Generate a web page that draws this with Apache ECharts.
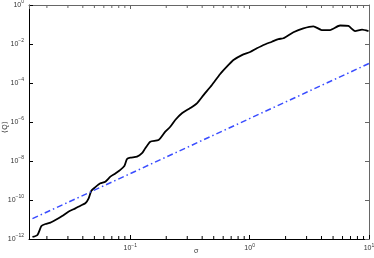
<!DOCTYPE html>
<html><head><meta charset="utf-8">
<script src="https://cdn.jsdelivr.net/npm/echarts@6/dist/echarts.min.js"></script>
<style>html,body{margin:0;padding:0;background:#fff}#c{width:374px;height:258px}</style>
</head><body><div id="c"></div>
<script>
// sigma values of the measured curve
const sigma = [0.01514,0.01667,0.01799,0.01945,0.02142,0.02357,0.02683,0.03048,0.03465,0.03817,0.04200,0.04477,0.04716,0.05093,0.05610,0.06176,0.06803,0.07489,0.08246,0.08910,0.09385,0.1,0.1138,0.1253,0.1335,0.1470,0.1725,0.1963,0.2161,0.2379,0.2707,0.3177,0.3614,0.4106,0.4829,0.5663,0.6648,0.7317,0.8604,1.009,1.149,1.305,1.535,1.742,1.919,2.326,2.818,3.420,4.018,4.717,5.716,6.714,7.638,8.738,9.91];
// <Q> values of the measured curve
const qValues = [1.27e-12,1.60e-12,4.6e-12,5.9e-12,6.9e-12,9.4e-12,1.5e-11,2.6e-11,3.7e-11,5.1e-11,6.8e-11,1.22e-10,3.0e-10,4.6e-10,7.2e-10,8.7e-10,1.57e-9,2.3e-9,3.5e-9,5.5e-9,1.27e-8,1.48e-8,1.66e-8,2.5e-8,4.5e-8,9.8e-8,1.19e-7,3.2e-7,5.7e-7,1.27e-6,2.8e-6,5.2e-6,9.1e-6,2.4e-5,7.9e-5,2.9e-4,8.4e-4,1.51e-3,2.7e-3,3.9e-3,6.0e-3,8.9e-3,1.31e-2,1.8e-2,1.96e-2,4.0e-2,6.4e-2,8.1e-2,5.2e-2,5.2e-2,8.9e-2,8.4e-2,4.6e-2,5.5e-2,4.6e-2];
// reference power-law line
const refSigma = [0.01514, 10];
const refQ = [1.1e-11, 1.0e-3];
// axis ranges and ticks
const xMin = 0.01416, xMax = 10;
const yMin = 1e-12, yMax = 1;
const xMinorTicks = [0.02,0.03,0.04,0.05,0.06,0.07,0.08,0.09,0.2,0.3,0.4,0.5,0.6,0.7,0.8,0.9,2,3,4,5,6,7,8,9];
const xLabel = 'σ';
const yLabel = '⟨Q⟩';

const FONT = 'Liberation Sans';
function supFmt(v){
  const l = Math.log10(v);
  const r = Math.round(l);
  if (Math.abs(l - r) > 1e-6) return '';
  const e = r < 0 ? '\u2212' + (-r) : '' + r;
  return '{b|10}{s|' + e + '}';
}
const rich = {
  b:{fontSize:7, fontFamily:FONT, color:'#333'},
  s:{fontSize:5, fontFamily:FONT, color:'#333', padding:[0,0,6,0]}
};

const chart = echarts.init(document.getElementById('c'), null, {renderer:'canvas'});
const grid = {left:29, right:5, top:5, bottom:19, containLabel:false, outerBoundsMode:'none'};
chart.setOption({
  animation:false,
  grid: grid,
  graphic:[
    {type:'text', left:194, top:248, style:{text:xLabel, fontSize:7, fontFamily:FONT, fill:'#333'}},
    {type:'text', x:5, y:127, rotation:Math.PI/2, style:{text:yLabel, fontSize:7, fontFamily:FONT, fill:'#333', align:'center', verticalAlign:'middle'}}
  ],
  xAxis:[{
    type:'log', logBase:10, min:xMin, max:xMax, position:'bottom',
    axisLine:{show:true, lineStyle:{color:'#000', width:1}},
    axisTick:{show:true, inside:true, length:4, lineStyle:{color:'#000'}},
    axisLabel:{formatter:supFmt, rich:rich, margin:4, showMinLabel:true, hideOverlap:false},
    splitLine:{show:false}
  },{
    type:'log', logBase:10, min:xMin, max:xMax, position:'top',
    axisLine:{show:true, lineStyle:{color:'#666', width:1}},
    axisTick:{show:true, inside:true, length:4, lineStyle:{color:'#666'}},
    axisLabel:{show:false}, splitLine:{show:false}
  }],
  yAxis:[{
    type:'log', logBase:10, min:yMin, max:yMax, interval:2, position:'left',
    axisLine:{show:true, lineStyle:{color:'#000', width:1}},
    axisTick:{show:true, inside:true, length:4, lineStyle:{color:'#000'}},
    axisLabel:{formatter:supFmt, rich:rich, margin:5},
    splitLine:{show:false}
  },{
    type:'log', logBase:10, min:yMin, max:yMax, interval:2, position:'right',
    axisLine:{show:true, lineStyle:{color:'#666', width:1}},
    axisTick:{show:true, inside:true, length:4, lineStyle:{color:'#666'}},
    axisLabel:{show:false}, splitLine:{show:false}
  }],
  series:[{
    type:'line', xAxisIndex:0, yAxisIndex:0, showSymbol:false, smooth:0.2,
    data: sigma.map((s,i)=>[s,qValues[i]]),
    lineStyle:{color:'#000', width:1.8}
  },{
    type:'line', xAxisIndex:0, yAxisIndex:0, showSymbol:false,
    data: refSigma.map((s,i)=>[s,refQ[i]]),
    lineStyle:{color:'#3a4dff', width:1.5, type:[6,3,1.5,3]}
  },{
    type:'custom', xAxisIndex:0, yAxisIndex:0, clip:false, silent:true,
    data: xMinorTicks.map(v=>[v]),
    renderItem:function(params, api){
      const v = api.value(0);
      const b = api.coord([v, yMin]);
      const t = api.coord([v, yMax]);
      return {type:'group', children:[
        {type:'line', shape:{x1:b[0], y1:b[1], x2:b[0], y2:b[1]-3}, style:{stroke:'#000', lineWidth:1}},
        {type:'line', shape:{x1:t[0], y1:t[1], x2:t[0], y2:t[1]+3}, style:{stroke:'#666', lineWidth:1}}
      ]};
    }
  }]
});
</script></body></html>
